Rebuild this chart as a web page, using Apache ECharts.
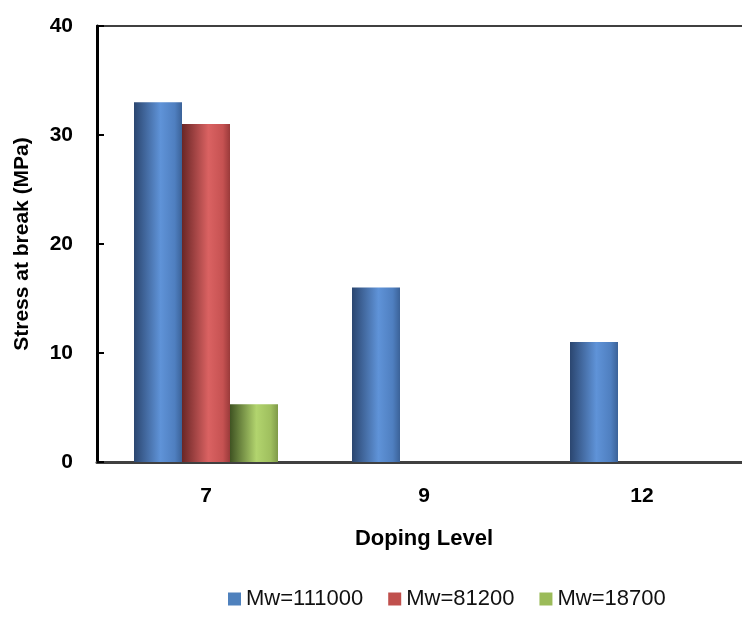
<!DOCTYPE html>
<html><head><meta charset="utf-8">
<script src="https://cdn.jsdelivr.net/npm/echarts@6/dist/echarts.min.js"></script>
<style>html,body{margin:0;padding:0;background:#fff}#c{width:742px;height:635px}</style>
</head><body><div id="c"></div>
<script>
const categories = ['7', '9', '12'];
const seriesNames = ['Mw=111000', 'Mw=81200', 'Mw=18700'];
const mw111000 = [33, 16, 11];
const mw81200 = [31, 0, 0];
const mw18700 = [5.3, 0, 0];
const yTicks = [0, 10, 20, 30, 40];

function grad(c0, c1, c2, c3) {
  return new echarts.graphic.LinearGradient(0, 0, 1, 0, [
    {offset: 0, color: c0}, {offset: 0.55, color: c1}, {offset: 0.85, color: c2}, {offset: 1, color: c3}
  ]);
}
const fills = [
  grad('#2b4670', '#5f93d8', '#4f7fc0', '#3b6298'),
  grad('#6a2626', '#da6262', '#c65252', '#9a3a3a'),
  grad('#3f5322', '#b2d46e', '#9fbf5e', '#7f9a48')
];
const legendColors = ['#4f81bd', '#c0504d', '#9bbb59'];
const datas = [mw111000, mw81200, mw18700];
const FONT = 'Liberation Sans, Arial, sans-serif';

const chart = echarts.init(document.getElementById('c'), null, {renderer: 'canvas'});
chart.setOption({
  animation: false,
  backgroundColor: '#fff',
  grid: {left: 97, width: 654, top: 26, height: 436, outerBoundsMode: 'none', containLabel: false,
    show: true, borderColor: '#404040', borderWidth: 2, backgroundColor: 'transparent'},
  legend: {
    top: 583, left: 223, itemWidth: 13, itemHeight: 13, itemGap: 25, icon: 'rect',
    textStyle: {fontFamily: FONT, fontSize: 22, color: '#111'},
    data: seriesNames.map((n, i) => ({name: n, itemStyle: {color: legendColors[i]}}))
  },
  xAxis: {
    type: 'category', data: categories,
    name: 'Doping Level', nameLocation: 'middle', nameGap: 66,
    nameTextStyle: {fontFamily: FONT, fontWeight: 'bold', fontSize: 22, color: '#000'},
    axisLine: {lineStyle: {color: '#404040', width: 3}},
    axisTick: {show: false},
    axisLabel: {fontFamily: FONT, fontWeight: 'bold', fontSize: 21, color: '#000', margin: 24}
  },
  yAxis: {
    type: 'value', min: 0, max: 40, interval: 10,
    name: 'Stress at break (MPa)', nameLocation: 'middle', nameGap: 64,
    nameTextStyle: {fontFamily: FONT, fontWeight: 'bold', fontSize: 21, color: '#000'},
    axisLine: {show: true, lineStyle: {color: '#000', width: 3}},
    axisTick: {show: true, inside: true, length: 7, lineStyle: {color: '#000', width: 2}},
    splitLine: {show: false},
    axisLabel: {fontFamily: FONT, fontWeight: 'bold', fontSize: 21, color: '#000', margin: 24,
      formatter: v => yTicks.includes(v) ? String(v) : ''}
  },
  series: seriesNames.map((n, i) => ({
    name: n, type: 'bar', data: datas[i], barWidth: 48, barGap: '0%',
    itemStyle: {color: fills[i]}
  }))
});
</script></body></html>
